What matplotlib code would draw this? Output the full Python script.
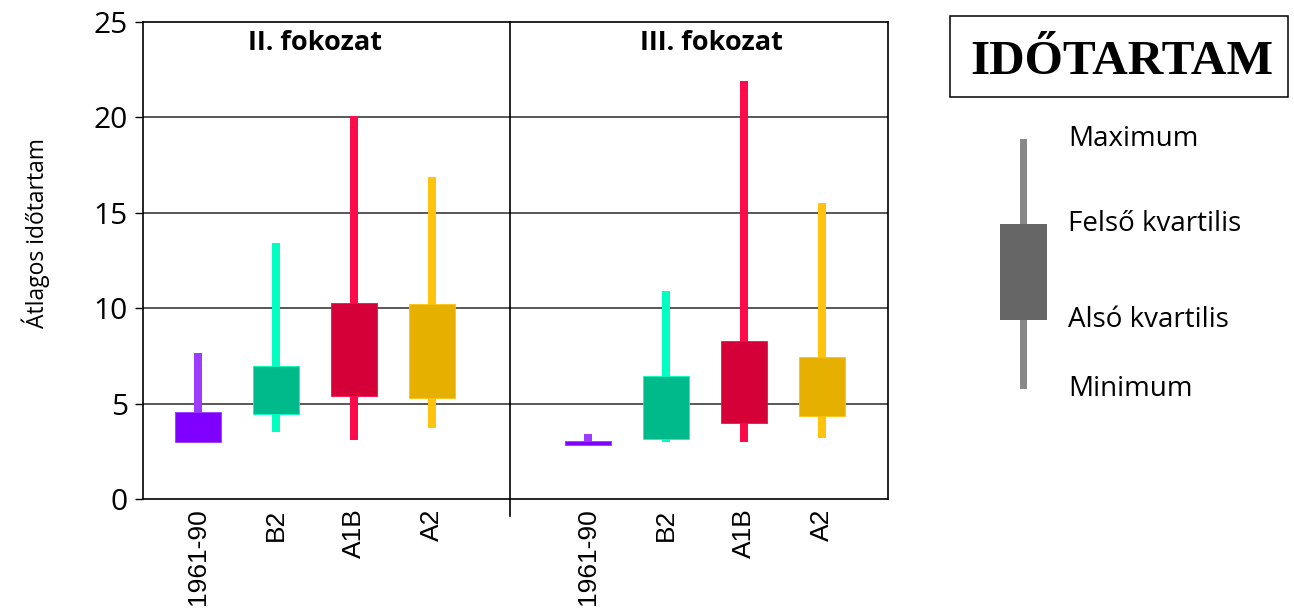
import matplotlib
matplotlib.use("Agg")
import matplotlib.pyplot as plt
from matplotlib.patches import Rectangle
from matplotlib.transforms import blended_transform_factory
import numpy as np

# --- data -------------------------------------------------------------
categories = ["1961-90", "B2", "A1B", "A2"]
panel_titles = ["II. fokozat", "III. fokozat"]

# II. fokozat
min_ii = [2.97, 3.49, 3.07, 3.70]
q1_ii = [2.97, 4.44, 5.40, 5.31]
q3_ii = [4.54, 6.98, 10.28, 10.21]
max_ii = [7.63, 13.39, 20.05, 16.88]

# III. fokozat
min_iii = [2.84, 2.97, 2.97, 3.18]
q1_iii = [2.84, 3.14, 4.00, 4.33]
q3_iii = [3.05, 6.46, 8.29, 7.42]
max_iii = [3.39, 10.91, 21.91, 15.52]

box_colors = ["#7F00FF", "#00BA8C", "#D40037", "#E6B000"]
whisker_colors = ["#9B3CFF", "#00FFC0", "#FF0A4B", "#FFC20E"]

y_ticks = [0, 5, 10, 15, 20, 25]
y_label = "Átlagos időtartam"
title = "IDŐTARTAM"
key_labels = ["Maximum", "Felső kvartilis", "Alsó kvartilis", "Minimum"]

# --- figure -----------------------------------------------------------
W, H = 1294, 611
fig = plt.figure(figsize=(W / 100, H / 100), dpi=100)
fig.patch.set_facecolor("white")

CAL = ["Open Sans", "DejaVu Sans"]


def fx(px):
    return px / W


def fy(py):
    return 1 - py / H


ax = fig.add_axes([fx(143), fy(499), fx(888) - fx(143), fy(21.7) - fy(499)])

# category positions: four per panel with an empty slot between panels
pos_ii = np.arange(4)
pos_iii = np.arange(4) + 5
box_w = 0.59
whisk_w = 0.094

for pos, mn, a, b, mx in [(pos_ii, min_ii, q1_ii, q3_ii, max_ii),
                          (pos_iii, min_iii, q1_iii, q3_iii, max_iii)]:
    mn, a, b, mx = map(np.asarray, (mn, a, b, mx))
    ax.bar(pos, mx - mn, bottom=mn, width=whisk_w, color=whisker_colors,
           zorder=3, linewidth=0)
    ax.bar(pos, b - a, bottom=a, width=box_w, color=box_colors,
           edgecolor=whisker_colors, linewidth=0.6, zorder=4)

ax.set_xlim(-0.705, 8.846)
ax.set_ylim(0, 25)
ax.set_yticks(y_ticks)
ax.set_yticklabels([str(t) for t in y_ticks], fontfamily=CAL, fontsize=21.5)
ax.tick_params(axis="y", length=6, width=1.0, pad=5, colors="black")
ax.set_xticks(list(pos_ii) + list(pos_iii))
ax.set_xticklabels(categories * 2, rotation=90, fontfamily="Liberation Sans",
                   fontsize=19, va="top", ha="center")
ax.tick_params(axis="x", length=0, pad=7)

for v in y_ticks[1:-1]:
    ax.axhline(v, color="#2a2a2a", linewidth=1.1, zorder=1)
for s in ax.spines.values():
    s.set_linewidth(1.2)
    s.set_color("black")

# divider between panels, running a little below the axis
ax.axvline(4, ymin=-0.036, ymax=1, color="black", linewidth=1.2,
           clip_on=False, zorder=2)

ax.text(1.5, 23.9, panel_titles[0], ha="center", va="center",
        fontfamily=CAL, fontweight="bold", fontsize=19.5)
ax.text(6.58, 23.9, panel_titles[1], ha="center", va="center",
        fontfamily=CAL, fontweight="bold", fontsize=19.5)

fig.text(fx(36), fy(233), y_label, rotation=90, ha="center", va="center",
         fontfamily=CAL, fontsize=16.5)

# --- title box ----------------------------------------------------------
fig.patches.append(Rectangle((fx(950), fy(96.7)), fx(1288) - fx(950),
                             fy(15.7) - fy(96.7), transform=fig.transFigure,
                             facecolor="white", edgecolor="black",
                             linewidth=1.1))
fig.text(fx(1122), fy(74), title, ha="center", va="baseline",
         fontfamily="Liberation Serif", fontweight="bold", fontsize=35.5)

# --- key ------------------------------------------------------------------
lax = fig.add_axes([fx(988.7), fy(389), fx(70), fy(139) - fy(389)])
lax.set_xlim(-35, 35)
lax.set_ylim(0, 1)
lax.axis("off")
key_vals = [1.0, 0.661, 0.276, 0.0]
lax.bar(0, key_vals[0] - key_vals[3], bottom=key_vals[3], width=7.3,
        color="#888888", linewidth=0)
lax.bar(0, key_vals[1] - key_vals[2], bottom=key_vals[2], width=47,
        color="#666666", linewidth=0)
ktr = blended_transform_factory(fig.transFigure, lax.transData)
for lab, v in zip(key_labels, key_vals):
    lax.text(fx(1068), v, lab, transform=ktr, ha="left", va="center",
             fontfamily=CAL, fontsize=20, clip_on=False)

fig.savefig("out.png", dpi=100, facecolor="white")
